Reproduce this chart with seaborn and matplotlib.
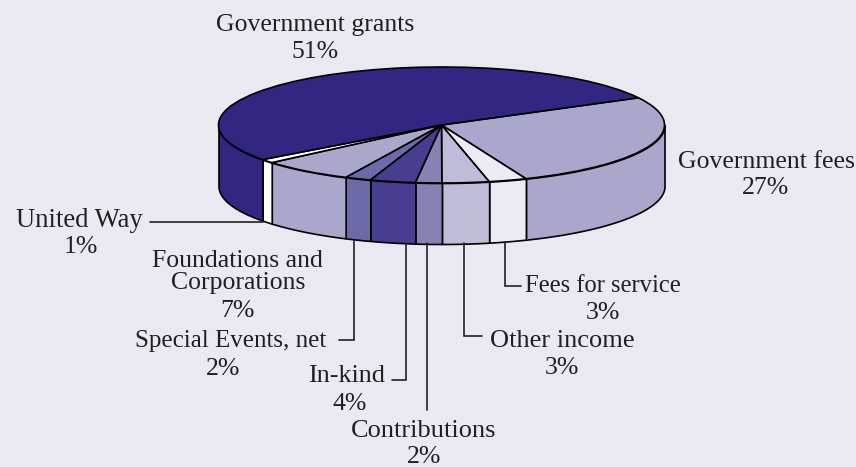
#!/usr/bin/env python3
import numpy as np
import matplotlib
matplotlib.use("Agg")
import matplotlib.pyplot as plt
import seaborn as sns

# slice order runs clockwise, starting at the back right edge
categories = ["Government fees", "Fees for service", "Other income", "Contributions",
              "In-kind", "Special Events, net", "Foundations and Corporations",
              "United Way", "Government grants"]
printed_pct = [27, 3, 3, 2, 4, 2, 7, 1, 51]
# shares as drawn in the picture, read off the rim (not quite the printed ones)
drawn_share = [26.6, 2.75, 3.4, 1.9, 3.3, 1.9, 6.7, 1.05, 52.4]
slice_colors = ["#aba7cc", "#ecebf4", "#bfbcd9", "#8682b4", "#483d91",
                "#6e69a8", "#aba7cc", "#ffffff", "#312783"]

BG = "#eae9f2"
INK = "#231f20"
W, H = 856, 467
CX, CY, RX, RY, DEPTH = 441.5, 125, 223, 58, 61   # pixels
START = 28

sns.set_theme(style="white", rc={"figure.facecolor": BG, "axes.facecolor": BG,
                                 "savefig.facecolor": BG})
plt.rcParams["font.family"] = ["Liberation Serif", "DejaVu Serif"]

fig = plt.figure(figsize=(W / 100, H / 100), dpi=100)

# pie axes: one unit is RX px across and RY px down, so the circle comes out flat
ax = fig.add_axes([0, 0, 1, 1])
palette = sns.color_palette(slice_colors)

# rim first, only the front half of the circle shows
edges = START * -1 + np.cumsum([0] + drawn_share) * 3.6
for col, a0, a1 in zip(palette, edges[:-1], edges[1:]):
    lo, hi = max(a0, 0), min(a1, 180)
    if hi <= lo:
        continue
    t = np.radians(np.linspace(lo, hi, 120))
    ax.fill_between(np.cos(t), -np.sin(t), -np.sin(t) - DEPTH / RY,
                    facecolor=col, edgecolor="black", linewidth=1.2, zorder=1)

wedges, _ = ax.pie(drawn_share, colors=palette, startangle=START, counterclock=False,
                   radius=1, center=(0, 0),
                   wedgeprops={"edgecolor": "black", "linewidth": 1.2, "zorder": 2})
ax.set_aspect("auto")
ax.set_xlim(-CX / RX, (W - CX) / RX)
ax.set_ylim((CY - H) / RY, CY / RY)
ax.axis("off")

# overlay in pixel coordinates for the labels and leader lines
top = fig.add_axes([0, 0, 1, 1], facecolor="none")
top.set_xlim(0, W)
top.set_ylim(H, 0)
top.axis("off")

# text, centre x, baseline y, font size
label_spots = {
    "Government grants": [("Government grants", 315, 31, 18.5), ("51%", 315, 58, 18.5)],
    "Government fees": [("Government fees", 766, 168, 18.5), ("27%", 766, 194, 18.5)],
    "United Way": [("United Way", 79, 227, 19.2), ("1%", 81, 253, 18.5)],
    "Foundations and Corporations": [("Foundations and", 237, 267, 18.5),
                                     ("Corporations", 238, 289, 18.5), ("7%", 237, 317, 18.5)],
    "Special Events, net": [("Special Events, net", 231, 347, 18), ("2%", 223, 375, 18.5)],
    "In-kind": [("In-kind", 347, 382, 18.8), ("4%", 350, 410, 18.5)],
    "Contributions": [("Contributions", 424, 437, 19), ("2%", 424, 463, 18.5)],
    "Other income": [("Other income", 562, 347, 19), ("3%", 562, 374, 18.5)],
    "Fees for service": [("Fees for service", 603, 292, 17.7), ("3%", 603, 319, 18.5)],
}
for name in categories:
    for txt, x, y, size in label_spots[name]:
        top.text(x, y, txt, ha="center", va="baseline", fontsize=size, color=INK)

leaders = [
    ([150, 263], [222, 222]),
    ([354, 354, 339], [240, 340, 340]),
    ([406, 406, 392], [243, 380, 380]),
    ([427, 427], [243, 410]),
    ([464, 464, 482], [243, 336, 336]),
    ([505, 505, 521], [242, 286, 286]),
]
for xs, ys in leaders:
    top.plot(xs, ys, color=INK, lw=1.2, solid_joinstyle="miter")

fig.savefig("out.png", dpi=100)
